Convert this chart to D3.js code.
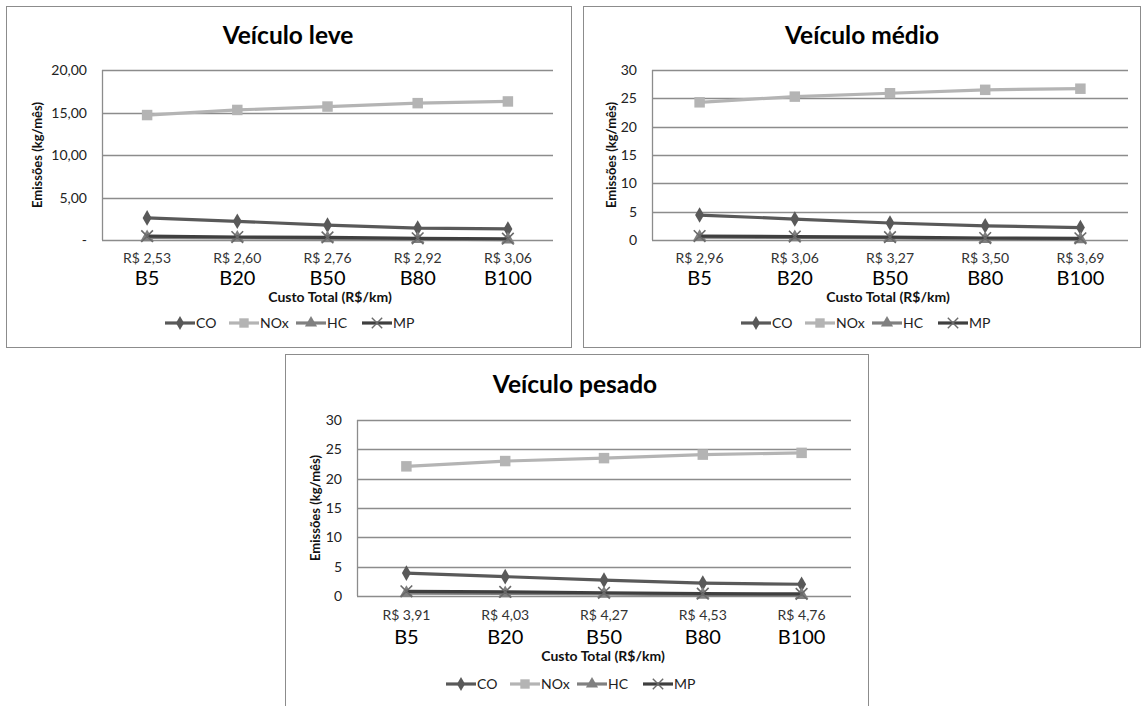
<!DOCTYPE html>
<html>
<head>
<meta charset="utf-8">
<script src="https://cdn.jsdelivr.net/npm/d3@7"></script>
<style>
  body { margin: 0; background: #fff; }
  svg { display: block; font-family: Lato, "Liberation Sans", sans-serif; }
</style>
</head>
<body>
<svg id="chart" width="1141" height="706"></svg>
<script>
// data
const blends = ["B5", "B20", "B50", "B80", "B100"];
const seriesNames = ["CO", "NOx", "HC", "MP"];

const leveCost = ["R$ 2,53", "R$ 2,60", "R$ 2,76", "R$ 2,92", "R$ 3,06"];
const leveCO  = [2.6, 2.2, 1.75, 1.4, 1.3];
const leveNOx = [14.7, 15.3, 15.7, 16.1, 16.3];
const leveHC  = [0.3, 0.25, 0.2, 0.1, 0.05];
const leveMP  = [0.45, 0.35, 0.3, 0.2, 0.15];
const leveTicks = [0, 5, 10, 15, 20];
const leveTickLabels = ["-", "5,00", "10,00", "15,00", "20,00"];

const medioCost = ["R$ 2,96", "R$ 3,06", "R$ 3,27", "R$ 3,50", "R$ 3,69"];
const medioCO  = [4.4, 3.7, 3.0, 2.5, 2.2];
const medioNOx = [24.3, 25.3, 25.9, 26.5, 26.7];
const medioHC  = [0.5, 0.45, 0.35, 0.15, 0.1];
const medioMP  = [0.7, 0.6, 0.5, 0.35, 0.3];
const medioTicks = [0, 5, 10, 15, 20, 25, 30];
const medioTickLabels = ["0", "5", "10", "15", "20", "25", "30"];

const pesadoCost = ["R$ 3,91", "R$ 4,03", "R$ 4,27", "R$ 4,53", "R$ 4,76"];
const pesadoCO  = [3.9, 3.3, 2.7, 2.2, 2.0];
const pesadoNOx = [22.1, 23.0, 23.5, 24.1, 24.4];
const pesadoHC  = [0.5, 0.45, 0.35, 0.2, 0.15];
const pesadoMP  = [0.8, 0.7, 0.55, 0.4, 0.35];
const pesadoTicks = [0, 5, 10, 15, 20, 25, 30];
const pesadoTickLabels = ["0", "5", "10", "15", "20", "25", "30"];

const colors = { CO: "#595959", NOx: "#b4b4b4", HC: "#808080", MP: "#3f3f3f" };
const symbols = { CO: d3.symbolDiamond, NOx: d3.symbolSquare, HC: d3.symbolTriangle, MP: d3.symbolTimes };
const symSize = { CO: 70, NOx: 110, HC: 80, MP: 90 };

const svg = d3.select("#chart");

function drawChart(o) {
  const g = svg.append("g");

  g.append("rect")
    .attr("x", o.frame[0] + 0.5).attr("y", o.frame[1] + 0.5)
    .attr("width", o.frame[2]).attr("height", o.frame[3])
    .attr("fill", "#fff").attr("stroke", "#8c8c8c");

  g.append("text")
    .attr("x", o.titleX).attr("y", o.titleY)
    .attr("text-anchor", "middle")
    .attr("font-size", 24.5).attr("font-weight", "bold").attr("fill", "#000")
    .text(o.title);

  const x = d3.scaleBand().domain(blends).range([o.left, o.right]);
  const y = d3.scaleLinear().domain([0, d3.max(o.ticks)]).range([o.bottom, o.top]);

  // gridlines
  g.selectAll(".grid").data(o.ticks).join("line")
    .attr("x1", o.left).attr("x2", o.right)
    .attr("y1", d => Math.round(y(d)) + 0.5).attr("y2", d => Math.round(y(d)) + 0.5)
    .attr("stroke", "#8c8c8c").attr("stroke-width", 1.3);

  g.append("line")
    .attr("x1", o.left + 0.5).attr("x2", o.left + 0.5)
    .attr("y1", o.top).attr("y2", o.bottom)
    .attr("stroke", "#8c8c8c").attr("stroke-width", 1.3);

  // y tick labels
  g.selectAll(".ylab").data(o.ticks).join("text")
    .attr("x", o.left - 15).attr("y", d => y(d) + 5)
    .attr("text-anchor", "end").attr("font-size", 14).attr("fill", "#222")
    .text((d, i) => o.tickLabels[i]);

  g.append("text")
    .attr("transform", `translate(${o.yTitleX},${(o.top + o.bottom) / 2}) rotate(-90)`)
    .attr("text-anchor", "middle").attr("font-size", 13).attr("font-weight", "bold")
    .attr("fill", "#111")
    .text("Emissões  (kg/mês)");

  // x labels
  const cx = d => x(d) + x.bandwidth() / 2;
  g.selectAll(".cost").data(blends).join("text")
    .attr("x", cx).attr("y", o.costY)
    .attr("text-anchor", "middle").attr("font-size", 14).attr("fill", "#333")
    .text((d, i) => o.cost[i]);
  g.selectAll(".blend").data(blends).join("text")
    .attr("x", cx).attr("y", o.blendY)
    .attr("text-anchor", "middle").attr("font-size", 20).attr("fill", "#000")
    .text(d => d);

  g.append("text")
    .attr("x", o.xTitleX).attr("y", o.xTitleY)
    .attr("text-anchor", "middle").attr("font-size", 14).attr("font-weight", "bold")
    .attr("fill", "#111")
    .text("Custo Total  (R$/km)");

  // series
  const line = d3.line().x((d, i) => cx(blends[i])).y(d => y(d));
  seriesNames.forEach(name => {
    const vals = o.series[name];
    g.append("path").datum(vals)
      .attr("d", line).attr("fill", "none")
      .attr("stroke", colors[name]).attr("stroke-width", 3.2)
      .attr("stroke-linejoin", "round");
    g.selectAll(".m" + name).data(vals).join("path")
      .attr("transform", (d, i) => `translate(${cx(blends[i])},${y(d)})`)
      .attr("d", d3.symbol(symbols[name], symSize[name]))
      .attr("fill", name === "MP" ? "none" : colors[name])
      .attr("stroke", name === "MP" ? "#6a6a6a" : "none")
      .attr("stroke-width", 1.6);
  });

  // legend
  const offs = [0, 64, 131, 197];
  seriesNames.forEach((name, i) => {
    const lx = o.legendX + offs[i];
    g.append("line")
      .attr("x1", lx).attr("x2", lx + 30)
      .attr("y1", o.legendY).attr("y2", o.legendY)
      .attr("stroke", colors[name]).attr("stroke-width", 3.2);
    g.append("path")
      .attr("transform", `translate(${lx + 15},${o.legendY})`)
      .attr("d", d3.symbol(symbols[name], symSize[name] * 0.8))
      .attr("fill", name === "MP" ? "none" : colors[name])
      .attr("stroke", name === "MP" ? "#6a6a6a" : "none")
      .attr("stroke-width", 1.4);
    g.append("text")
      .attr("x", lx + 31).attr("y", o.legendY + 5)
      .attr("font-size", 14).attr("fill", "#222")
      .text(name);
  });
}

drawChart({
  frame: [6, 6, 565, 341], title: "Veículo leve", titleX: 288, titleY: 44,
  left: 102, right: 553, top: 70, bottom: 240,
  ticks: leveTicks, tickLabels: leveTickLabels, yTitleX: 42,
  cost: leveCost, costY: 263, blendY: 285, xTitleX: 330, xTitleY: 302,
  legendX: 165, legendY: 323,
  series: { CO: leveCO, NOx: leveNOx, HC: leveHC, MP: leveMP }
});

drawChart({
  frame: [583, 6, 557, 341], title: "Veículo médio", titleX: 862, titleY: 44,
  left: 652, right: 1128, top: 70, bottom: 240,
  ticks: medioTicks, tickLabels: medioTickLabels, yTitleX: 616,
  cost: medioCost, costY: 263, blendY: 285, xTitleX: 888, xTitleY: 302,
  legendX: 741, legendY: 323,
  series: { CO: medioCO, NOx: medioNOx, HC: medioHC, MP: medioMP }
});

drawChart({
  frame: [285, 354, 583, 360], title: "Veículo pesado", titleX: 575, titleY: 393,
  left: 357, right: 851, top: 420, bottom: 596,
  ticks: pesadoTicks, tickLabels: pesadoTickLabels, yTitleX: 320,
  cost: pesadoCost, costY: 620, blendY: 644, xTitleX: 603, xTitleY: 661,
  legendX: 446, legendY: 684,
  series: { CO: pesadoCO, NOx: pesadoNOx, HC: pesadoHC, MP: pesadoMP }
});
</script>
</body>
</html>
